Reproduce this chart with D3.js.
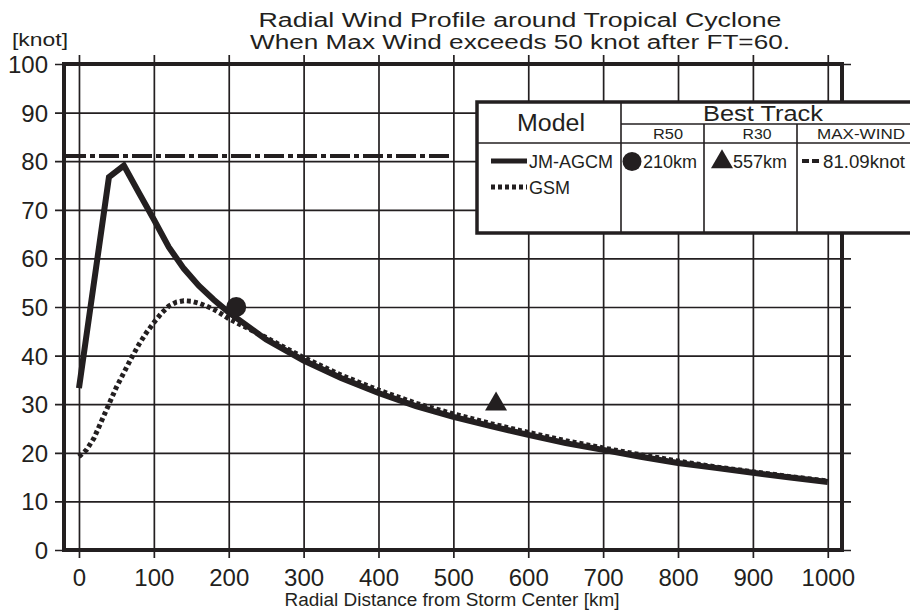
<!DOCTYPE html>
<html><head><meta charset="utf-8">
<script src="https://cdn.jsdelivr.net/npm/d3@7"></script>
<style>body{margin:0;background:#fff}svg{display:block}</style>
</head><body>
<svg id="c" width="910" height="612"></svg>
<script>
// ---------- data ----------
const titleLines = ["Radial Wind Profile around Tropical Cyclone", "When Max Wind exceeds 50 knot after FT=60."];
const xTicks = [0, 100, 200, 300, 400, 500, 600, 700, 800, 900, 1000];
const yTicks = [0, 10, 20, 30, 40, 50, 60, 70, 80, 90, 100];
const xLabel = "Radial Distance from Storm Center [km]";
const yUnit = "[knot]";

const jmDist = [0, 40, 60, 80, 100, 120, 140, 160, 180, 200, 250, 300, 350, 400, 450, 500, 550, 600, 650, 700, 750, 800, 850, 900, 950, 1000];
const jmWind = [33.3, 76.7, 79.1, 73.5, 68.0, 62.3, 57.9, 54.4, 51.5, 48.9, 43.3, 39.0, 35.4, 32.3, 29.6, 27.4, 25.5, 23.7, 22.0, 20.6, 19.2, 17.9, 16.9, 15.9, 14.9, 14.0];

const gsmDist = [0, 10, 20, 30, 40, 50, 60, 70, 80, 90, 100, 110, 120, 130, 140, 150, 160, 170, 180, 190, 200, 250, 300, 350, 400, 450, 500, 550, 600, 650, 700, 750, 800, 850, 900, 950, 1000];
const gsmWind = [19.2, 20.6, 23.0, 26.5, 30.0, 33.5, 36.5, 39.5, 42.3, 44.7, 46.8, 48.7, 50.2, 51.0, 51.3, 51.2, 50.8, 50.2, 49.5, 48.6, 47.6, 43.7, 39.6, 36.0, 32.9, 30.2, 28.0, 26.0, 24.2, 22.5, 21.0, 19.6, 18.3, 17.1, 16.1, 15.1, 14.2];

const modelNames = ["JM-AGCM", "GSM"];
const bestTrackCols = ["R50", "R30", "MAX-WIND"];
const r50Dist = 210, r50Wind = 50;
const r30Dist = 557, r30Wind = 30;
const maxWind = 81.09, maxWindEnd = 495;
const bestTrackTexts = ["210km", "557km", "81.09knot"];

// ---------- drawing ----------
const ink = "#231f20";
const font = "Liberation Sans, Arial, Helvetica, sans-serif";
const svg = d3.select("#c");

const x = d3.scaleLinear().domain([-20, 1019]).range([64, 842]);
const y = d3.scaleLinear().domain([0, 100]).range([550, 64]);

// title
svg.selectAll("text.title").data(titleLines).join("text")
  .attr("class", "title")
  .attr("x", 520).attr("y", (d, i) => i === 0 ? 26.5 : 48.5)
  .attr("text-anchor", "middle")
  .attr("font-family", font).attr("font-size", 19.5).attr("fill", ink)
  .attr("textLength", (d, i) => i === 0 ? 523 : 540)
  .attr("lengthAdjust", "spacingAndGlyphs")
  .text(d => d);

// y axis + horizontal grid
const gy = svg.append("g").attr("transform", "translate(64,0)")
  .call(d3.axisLeft(y).tickValues(yTicks).tickSize(0).tickFormat(d3.format("d")));
gy.select(".domain").remove();
gy.selectAll(".tick line").attr("x1", -9).attr("x2", 787).attr("stroke", ink).attr("stroke-width", 1.7);
gy.selectAll(".tick text").attr("x", -16).attr("dy", "0.35em")
  .attr("font-family", font).attr("font-size", 24).attr("fill", ink);

// x axis + vertical grid
const gx = svg.append("g").attr("transform", "translate(0,550)")
  .call(d3.axisBottom(x).tickValues(xTicks).tickSize(0).tickFormat(d3.format("d")));
gx.select(".domain").remove();
gx.selectAll(".tick line").attr("y1", -495).attr("y2", 8).attr("stroke", ink).attr("stroke-width", 1.7);
gx.selectAll(".tick text").attr("y", 36).attr("dy", 0)
  .attr("font-family", font).attr("font-size", 24).attr("fill", ink);

// axis titles
svg.append("text").attr("x", 452).attr("y", 606).attr("text-anchor", "middle")
  .attr("font-family", font).attr("font-size", 18).attr("fill", ink)
  .attr("textLength", 335).attr("lengthAdjust", "spacingAndGlyphs").text(xLabel);
svg.append("text").attr("x", 40).attr("y", 46).attr("text-anchor", "middle")
  .attr("font-family", font).attr("font-size", 18).attr("fill", ink)
  .attr("textLength", 56).attr("lengthAdjust", "spacingAndGlyphs").text(yUnit);

// max wind dash-dot line
svg.append("line")
  .attr("x1", x(-20) + 2).attr("x2", x(maxWindEnd))
  .attr("y1", y(maxWind)).attr("y2", y(maxWind))
  .attr("stroke", ink).attr("stroke-width", 4).attr("stroke-dasharray", "20,4,5,4");

const line = d3.line().x(d => x(d[0])).y(d => y(d[1]));

// GSM dotted
svg.append("path").datum(d3.zip(gsmDist, gsmWind))
  .attr("d", line).attr("fill", "none").attr("stroke", ink)
  .attr("stroke-width", 5).attr("stroke-dasharray", "4,3");

// JM-AGCM solid
svg.append("path").datum(d3.zip(jmDist, jmWind))
  .attr("d", line).attr("fill", "none").attr("stroke", ink)
  .attr("stroke-width", 6).attr("stroke-linejoin", "miter");

// best track markers
svg.append("circle").attr("cx", x(r50Dist)).attr("cy", y(r50Wind)).attr("r", 10).attr("fill", ink);
const tri = d3.symbol().type(d3.symbolTriangle).size(210);
svg.append("path").attr("d", tri).attr("transform", `translate(${x(r30Dist)},${y(r30Wind)})`).attr("fill", ink);

// frame
svg.append("rect").attr("x", x(-20)).attr("y", y(100))
  .attr("width", x(1019) - x(-20)).attr("height", y(0) - y(100))
  .attr("fill", "none").attr("stroke", ink).attr("stroke-width", 4);

// ---------- legend ----------
const lg = svg.append("g");
lg.append("rect").attr("x", 477).attr("y", 102).attr("width", 460).attr("height", 131)
  .attr("fill", "#fff").attr("stroke", ink).attr("stroke-width", 3.5);
const thin = (x1, y1, x2, y2) => lg.append("line").attr("x1", x1).attr("y1", y1).attr("x2", x2).attr("y2", y2)
  .attr("stroke", ink).attr("stroke-width", 1.6);
thin(621, 102, 621, 233);
thin(621, 124, 910, 124);
thin(477, 143, 910, 143);
thin(704, 124, 704, 233);
thin(797, 124, 797, 233);

const txt = (s, xx, yy, size, anchor, len) => {
  const t = lg.append("text").attr("x", xx).attr("y", yy)
    .attr("text-anchor", anchor).attr("font-family", font).attr("font-size", size).attr("fill", ink).text(s);
  if (len) t.attr("textLength", len).attr("lengthAdjust", "spacingAndGlyphs");
  return t;
};
txt("Model", 551, 131, 23, "middle", 68);
txt("Best Track", 763, 120.5, 22, "middle", 120);
const colCenters = [668, 757, 861];
const colWidths = [30, 29, 88];
bestTrackCols.forEach((c, i) => txt(c, colCenters[i], 139, 14, "middle", colWidths[i]));

// model rows
const rowY = [161, 187];
lg.append("line").attr("x1", 491).attr("x2", 527).attr("y1", rowY[0]).attr("y2", rowY[0])
  .attr("stroke", ink).attr("stroke-width", 5);
lg.append("line").attr("x1", 491).attr("x2", 527).attr("y1", rowY[1]).attr("y2", rowY[1])
  .attr("stroke", ink).attr("stroke-width", 5).attr("stroke-dasharray", "4,3");
modelNames.forEach((m, i) => txt(m, 529, rowY[i] + 7, 18, "start"));

// best track row
lg.append("circle").attr("cx", 632).attr("cy", 161.5).attr("r", 9.5).attr("fill", ink);
txt(bestTrackTexts[0], 643, 168, 18, "start");
lg.append("path").attr("d", tri).attr("transform", "translate(722,162)").attr("fill", ink);
txt(bestTrackTexts[1], 733, 168, 18, "start");
lg.append("line").attr("x1", 802).attr("x2", 819).attr("y1", 161).attr("y2", 161)
  .attr("stroke", ink).attr("stroke-width", 4).attr("stroke-dasharray", "7,3");
txt(bestTrackTexts[2], 823, 168, 18, "start", 82);
</script>
</body></html>
